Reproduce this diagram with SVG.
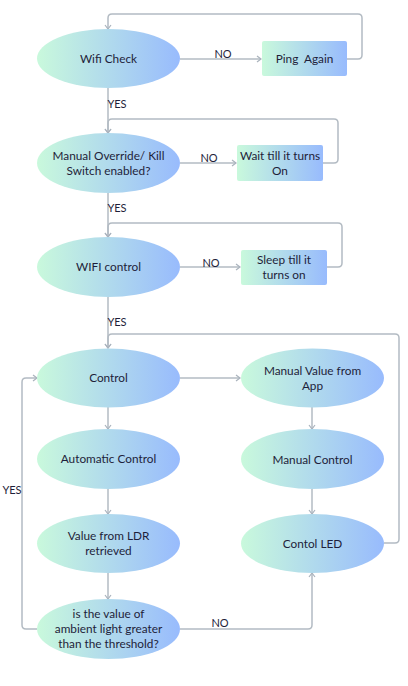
<svg xmlns="http://www.w3.org/2000/svg" width="408" height="686" viewBox="0 0 408 686">
<defs>
<linearGradient id="g" x1="0" y1="0" x2="1" y2="0">
<stop offset="0" stop-color="#c9f9dc"/>
<stop offset="1" stop-color="#98bbfd"/>
</linearGradient>
<marker id="a" markerWidth="8" markerHeight="8" refX="6" refY="4" orient="auto" markerUnits="userSpaceOnUse">
<path d="M2,1 L6,4 L2,7" fill="none" stroke="#aab3bd" stroke-width="1.2"/>
</marker>
<style>
.n{fill:url(#g)}
.c{fill:none;stroke:#b3bbc3;stroke-width:1.5;marker-end:url(#a)}
text{font-family:Lato,"Open Sans",sans-serif;font-size:11.8px;fill:#1e1e3a;text-anchor:middle;white-space:pre}
.l{font-size:11px}
</style>
</defs>
<rect width="408" height="686" fill="#fff"/>
<g id="connectors">
<path class="c" d="M180,59 H261"/>
<path class="c" d="M347,59 H358 Q362,59 362,55 V18 Q362,14 358,14 H112 Q108,14 108,18 V29"/>
<path class="c" d="M108,88 V133"/>
<path class="c" d="M180,163 H236"/>
<path class="c" d="M323,163 H334 Q338,163 338,159 V123 Q338,119 334,119 H112 Q108,119 108,123 V133"/>
<path class="c" d="M108,193 V237"/>
<path class="c" d="M180,267 H240"/>
<path class="c" d="M327,267 H338 Q342,267 342,263 V227 Q342,223 338,223 H112 Q108,223 108,227 V237"/>
<path class="c" d="M108,297 V348"/>
<path class="c" d="M384,543 H395 Q399,543 399,539 V338 Q399,334 395,334 H112 Q108,334 108,338 V348"/>
<path class="c" d="M180,378 H240"/>
<path class="c" d="M108,407 V429"/>
<path class="c" d="M312,407 V429"/>
<path class="c" d="M108,489 V514"/>
<path class="c" d="M312,489 V514"/>
<path class="c" d="M108,573 V599"/>
<path class="c" d="M180,629 H308 Q312,629 312,625 V573"/>
<path class="c" d="M37,629 H26 Q22,629 22,625 V382 Q22,378 26,378 H37"/>
<text class="l" x="223" y="58">NO</text>
<text class="l" x="117" y="108">YES</text>
<text class="l" x="209" y="162">NO</text>
<text class="l" x="117" y="212">YES</text>
<text class="l" x="211" y="267">NO</text>
<text class="l" x="117" y="326">YES</text>
<text class="l" x="220" y="627">NO</text>
<text class="l" x="12" y="494">YES</text>
</g>
<g id="wifi-check"><ellipse class="n" cx="108.5" cy="58.5" rx="71.5" ry="29.5"/><text x="108.5" y="63">Wifi Check</text></g>
<g id="ping-again"><rect class="n" x="262" y="41" width="85" height="35" rx="2"/><text x="304.5" y="63" font-size="12.5">Ping  Again</text></g>
<g id="manual-override"><ellipse class="n" cx="108.5" cy="163" rx="71.5" ry="30"/><text x="108.5" y="160">Manual Override/ Kill</text><text x="108.5" y="175">Switch enabled?</text></g>
<g id="wait"><rect class="n" x="237" y="145" width="86" height="36" rx="2"/><text x="280" y="160">Wait till it turns</text><text x="280" y="175">On</text></g>
<g id="wifi-control"><ellipse class="n" cx="108.5" cy="267" rx="71.5" ry="30"/><text x="108.5" y="271">WIFI control</text></g>
<g id="sleep"><rect class="n" x="241" y="250" width="86" height="35" rx="2"/><text x="284" y="264">Sleep till it</text><text x="284" y="279">turns on</text></g>
<g id="control"><ellipse class="n" cx="108.5" cy="378" rx="71.5" ry="29.5"/><text x="108.5" y="382">Control</text></g>
<g id="manual-value"><ellipse class="n" cx="312.5" cy="378" rx="71.5" ry="29.5"/><text x="312.5" y="375">Manual Value from</text><text x="312.5" y="390">App</text></g>
<g id="automatic-control"><ellipse class="n" cx="108.5" cy="459" rx="71.5" ry="30"/><text x="108.5" y="463">Automatic Control</text></g>
<g id="manual-control"><ellipse class="n" cx="312.5" cy="459" rx="71.5" ry="30"/><text x="312.5" y="464">Manual Control</text></g>
<g id="ldr"><ellipse class="n" cx="108.5" cy="543.5" rx="71.5" ry="29.5"/><text x="108.5" y="540">Value from LDR</text><text x="108.5" y="555">retrieved</text></g>
<g id="contol-led"><ellipse class="n" cx="312.5" cy="543.5" rx="71.5" ry="29.5"/><text x="312.5" y="548">Contol LED</text></g>
<g id="threshold"><ellipse class="n" cx="108.5" cy="629" rx="71.5" ry="30"/><text x="108.5" y="618">is the value of</text><text x="108.5" y="633">ambient light greater</text><text x="108.5" y="648">than the threshold?</text></g>
</svg>
